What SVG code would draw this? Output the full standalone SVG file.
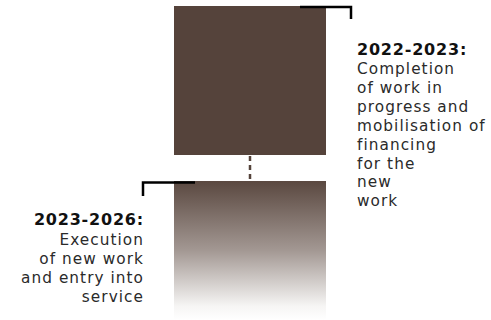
<svg xmlns="http://www.w3.org/2000/svg" width="491" height="320" viewBox="0 0 491 320">
<defs>
<linearGradient id="fade" x1="0" y1="0" x2="0" y2="1">
<stop offset="0" stop-color="#5a4840"/>
<stop offset="0.5" stop-color="#a39893"/>
<stop offset="0.9" stop-color="#f6f5f4"/>
<stop offset="1" stop-color="#ffffff"/>
</linearGradient>
</defs>
<style>
.t{font-family:"DejaVu Sans","Noto Sans",sans-serif;font-size:15.3px;fill:#2a2a2a;letter-spacing:1.05px}
.b{font-weight:bold;font-size:16px;letter-spacing:0.8px;fill:#111}
.br{fill:none;stroke:#000;stroke-width:2.5}
</style>
<g id="phase1">
<rect x="174" y="6" width="152" height="149" fill="#55433b"/>
<text class="t" x="357"><tspan class="b" x="357" y="55">2022-2023:</tspan><tspan x="357" y="74">Completion</tspan><tspan x="357" y="93">of work in</tspan><tspan x="357" y="112">progress and</tspan><tspan x="357" y="131">mobilisation of</tspan><tspan x="357" y="149.5">financing</tspan><tspan x="357" y="168.5">for the</tspan><tspan x="357" y="187">new</tspan><tspan x="357" y="206">work</tspan></text>
</g>
<g id="phase2">
<rect x="174" y="181" width="152" height="139" fill="url(#fade)"/>
<text class="t" text-anchor="end"><tspan class="b" x="144" y="225">2023-2026:</tspan><tspan x="144" y="245">Execution</tspan><tspan x="144" y="264">of new work</tspan><tspan x="144" y="283">and entry into</tspan><tspan x="144" y="302">service</tspan></text>
</g>
<g id="connectors">
<polyline class="br" points="300,7 351,7 351,19"/>
<polyline class="br" points="195,182.5 143,182.5 143,196"/>
<line x1="250" y1="156" x2="250" y2="181" stroke="#55433b" stroke-width="2.5" stroke-dasharray="5,4"/>
</g>
</svg>
